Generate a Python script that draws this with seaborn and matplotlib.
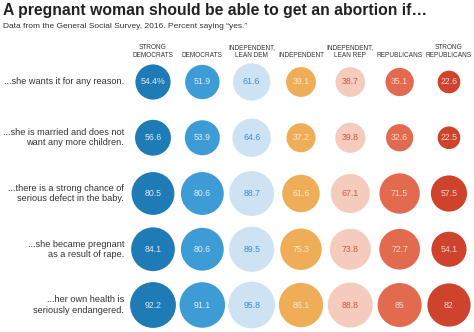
import matplotlib
matplotlib.use("Agg")
import matplotlib.pyplot as plt
import pandas as pd
import seaborn as sns

# Survey questions (rows) and party identification groups (columns)
reasons = [
    "...she wants it for any reason.",
    "...she is married and does not\nwant any more children.",
    "...there is a strong chance of\nserious defect in the baby.",
    "...she became pregnant\nas a result of rape.",
    "...her own health is\nseriously endangered.",
]
groups = [
    "STRONG\nDEMOCRATS", "DEMOCRATS", "INDEPENDENT,\nLEAN DEM", "INDEPENDENT",
    "INDEPENDENT,\nLEAN REP", "REPUBLICANS", "STRONG\nREPUBLICANS",
]

# Percent saying "yes", one list per group, in the order of `reasons`
strong_dem = [54.4, 56.6, 80.5, 84.1, 92.2]
dem = [51.9, 53.9, 80.6, 80.6, 91.1]
lean_dem = [61.6, 64.6, 88.7, 89.5, 95.8]
independent = [39.1, 37.2, 61.6, 75.3, 86.1]
lean_rep = [38.7, 39.8, 67.1, 73.8, 88.8]
rep = [35.1, 32.6, 71.5, 72.7, 85.0]
strong_rep = [22.6, 22.5, 57.5, 54.1, 82.0]

group_values = [strong_dem, dem, lean_dem, independent, lean_rep, rep, strong_rep]

fill_colors = ["#1f7bb6", "#3d9bd6", "#cde3f4", "#f0ad57", "#f5cbbd", "#e26a4e", "#cf432c"]
text_colors = ["#dbeaf5", "#e3f0fa", "#3f8dc6", "#fbe7cc", "#c85a44", "#fbd9cc", "#f7d3c8"]

records = []
for gi, (g, vals) in enumerate(zip(groups, group_values)):
    for ri, v in enumerate(vals):
        records.append({"group": g, "gi": gi, "ri": ri, "value": v})
df = pd.DataFrame(records)

sns.set_theme(style="white")
plt.rcParams["font.family"] = ["Liberation Sans", "DejaVu Sans"]

W, H = 474, 332
fig = plt.figure(figsize=(W / 100, H / 100), dpi=100)

# Axes placed so that each column/row cell is centred on its circle
col_w = 49.33
row_h = 55.75
x0 = 153 - col_w / 2
y0 = 82 - row_h / 2
ax = fig.add_axes([x0 / W, 1 - (y0 + 5 * row_h) / H, 7 * col_w / W, 5 * row_h / H])

sns.scatterplot(
    data=df, x="gi", y="ri", hue="group", palette=fill_colors, hue_order=groups,
    size="value", sizes=(0, 1180), size_norm=(0, 100),
    legend=False, linewidth=0, ax=ax, clip_on=False,
)
ax.set_xlim(-0.5, 6.5)
ax.set_ylim(4.5, -0.5)
ax.set_axis_off()

for _, r in df.iterrows():
    v = r["value"]
    label = f"{v:g}"
    if r["gi"] == 0 and r["ri"] == 0:
        label += "%"
    ax.text(r["gi"], r["ri"], label, ha="center", va="center",
            fontsize=6.3, color=text_colors[int(r["gi"])])

# Column headers
header_y = -0.5 + (59 - y0) / row_h
for gi, g in enumerate(groups):
    ax.text(gi, header_y, g, ha="center", va="bottom",
            fontsize=4.7, color="#333333", linespacing=1.1)

# Row labels
for ri, lab in enumerate(reasons):
    fig.text(124 / W, 1 - (82 + ri * row_h) / H, lab, ha="right", va="center",
             fontsize=6.6, color="#333333", linespacing=1.15)

fig.text(3 / W, 1 - 10 / H, "A pregnant woman should be able to get an abortion if…",
         ha="left", va="center", fontsize=11.3, fontweight="bold", color="#222222")
fig.text(3 / W, 1 - 26 / H, "Data from the General Social Survey, 2016. Percent saying \u201cyes.\u201d",
         ha="left", va="center", fontsize=6.0, color="#333333")

fig.savefig("out.png", dpi=100)
